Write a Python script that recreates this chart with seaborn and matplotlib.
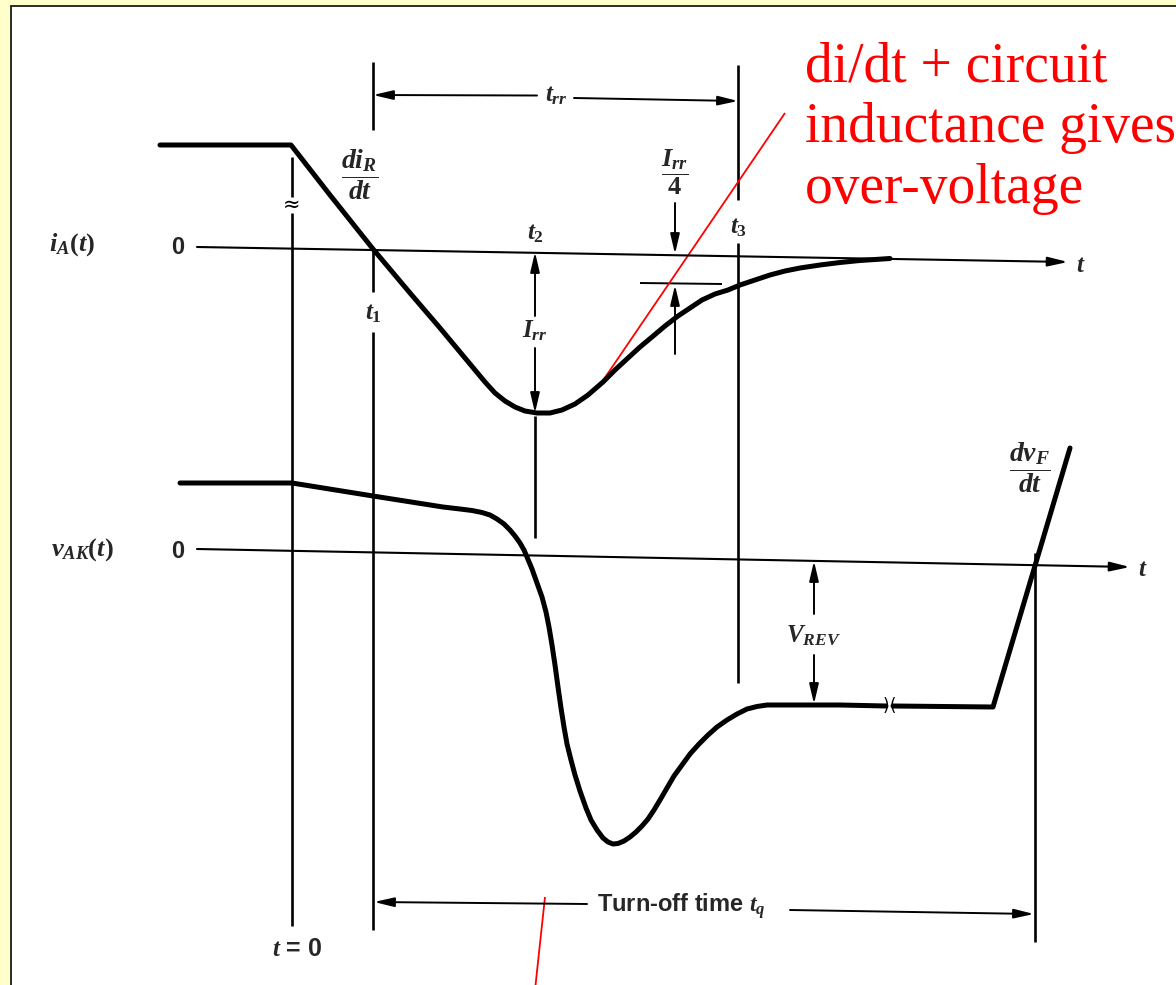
import matplotlib
matplotlib.use("Agg")
import matplotlib.pyplot as plt
from matplotlib.patches import Rectangle
import pandas as pd
import seaborn as sns

sns.set_style("white")
plt.rcParams["font.family"] = ["Liberation Sans", "DejaVu Sans"]
plt.rcParams["mathtext.fontset"] = "custom"
plt.rcParams["mathtext.it"] = "Liberation Serif:italic:bold"
plt.rcParams["mathtext.rm"] = "Liberation Serif:bold"
plt.rcParams["mathtext.bf"] = "Liberation Serif:bold"

# ---- waveforms (drawing units, y grows downward) ----
# anode current i_A(t): forward level, linear di/dt fall, reverse-recovery dip, decay to zero
current_t = [160, 291, 330, 373, 410, 440, 455, 465, 475, 485, 495, 505, 515, 525,
             537, 550, 562, 575, 588, 603, 615, 628, 640, 652, 665, 678, 690, 702,
             715, 728, 740, 755, 770, 785, 800, 820, 840, 860, 875, 890]
current_i = [145, 145, 195, 249, 293, 328, 346, 358, 370, 382, 393, 401, 407, 411,
             413, 413, 410, 404, 395, 382, 370, 358, 347, 337, 326, 316, 308, 300,
             294, 290, 285, 280, 275, 271, 268, 265, 262.5, 260.5, 259.5, 258.5]

# anode-cathode voltage v_AK(t) up to the time-axis break
voltage_t = [180, 292, 373, 443, 460, 472, 482, 490, 497, 504, 510, 515, 520, 524,
             527, 532, 537, 542, 546, 549, 552, 555, 558, 561, 564, 567, 571, 575,
             580, 586, 591, 597, 603, 608, 613, 618, 624, 630, 636, 642, 648, 654,
             660, 667, 674, 682, 690, 699, 708, 717, 727, 737, 747, 757, 767, 780,
             840, 886]
voltage_v = [483, 483, 496, 507, 509, 510.5, 512.5, 515, 519, 524, 530, 536, 543, 550,
             557, 569, 583, 597, 612, 627, 645, 665, 687, 708, 727, 744, 760, 775,
             791, 808, 820, 830, 838, 842, 844, 843.5, 841, 837, 832, 826, 819, 810,
             800, 788, 776, 765, 754, 744, 735, 727, 720, 714, 709, 706.5, 705, 705,
             705, 706]
# after the break: reverse plateau, then forward dv/dt ramp
voltage_tail_t = [893, 993, 1070]
voltage_tail_v = [706, 707, 448]

# zero axes (start, arrow tip)
current_axis = [(197, 247), (1068, 262)]
voltage_axis = [(197, 549), (1130, 567)]

# event instants
t_zero, t_one, t_two, t_three, t_q = 292, 373, 535, 738, 1035

fig = plt.figure(figsize=(11.76, 9.85), dpi=100)
fig.patch.set_facecolor("#FFFFCC")
ax = fig.add_axes([0, 0, 1, 1])
ax.add_patch(Rectangle((11, 6), 1200, 1000, facecolor="white",
                       edgecolor="#1a1a1a", lw=1.3, zorder=0))

K = "black"


def vline(x, y0, y1, lw=1.9):
    ax.plot([x, x], [y0, y1], color=K, lw=lw, solid_capstyle="butt", zorder=2)


def seg(p0, p1, lw=1.4, color=K):
    ax.plot([p0[0], p1[0]], [p0[1], p1[1]], color=color, lw=lw,
            solid_capstyle="butt", zorder=2)


def arrow(tail, tip, lw=1.4):
    ax.annotate("", xy=tip, xytext=tail,
                arrowprops=dict(arrowstyle="-|>,head_length=1.2,head_width=0.28",
                                mutation_scale=10, lw=lw, color=K,
                                shrinkA=0, shrinkB=0), zorder=3)


# axes with arrowheads
arrow(current_axis[0], current_axis[1], lw=1.5)
arrow(voltage_axis[0], voltage_axis[1], lw=1.5)

# waveforms
wave_kw = dict(sort=False, estimator=None, color=K, linewidth=3.6, ax=ax,
               legend=False, zorder=4)
sns.lineplot(data=pd.DataFrame({"t": current_t, "y": current_i}), x="t", y="y", **wave_kw)
sns.lineplot(data=pd.DataFrame({"t": voltage_t, "y": voltage_v}), x="t", y="y", **wave_kw)
sns.lineplot(data=pd.DataFrame({"t": voltage_tail_t, "y": voltage_tail_v}), x="t", y="y", **wave_kw)
for ln in ax.get_lines():
    ln.set_solid_joinstyle("round")
ax.set_xlim(0, 1176)
ax.set_ylim(985, 0)
ax.axis("off")

# break marks on the plateau
ax.text(886, 706, ")", ha="center", va="center", fontsize=12, color=K,
        family="DejaVu Sans")
ax.text(893, 706, "(", ha="center", va="center", fontsize=12, color=K,
        family="DejaVu Sans")

# vertical time markers
vline(t_zero, 157, 197)
vline(t_zero, 213, 926)
ax.text(t_zero, 205, "≈", ha="center", va="center", fontsize=15, color=K,
        family="DejaVu Sans")
vline(t_one, 62, 130)
vline(t_one, 248, 292)
vline(t_one, 332, 930)
vline(t_three, 65, 200)
vline(t_three, 243, 683)
vline(t_two, 416, 538)
vline(t_q, 553, 942)

# t_rr span
arrow((537, 95.5), (t_one, 95))
arrow((574, 98), (t_three, 101))
ax.text(556, 95, r"$t_{rr}$", ha="center", va="center", fontsize=18)

# I_rr span
arrow((t_two, 316), (t_two, 252))
arrow((t_two, 348), (t_two, 413))
ax.text(t_two, 331, r"$I_{rr}$", ha="center", va="center", fontsize=18)

# I_rr/4 marker
arrow((675, 203), (675, 254))
seg((640, 283), (722, 284), lw=1.4)
arrow((675, 354), (675, 285))
ax.text(675, 172, r"$\dfrac{I_{rr}}{4}$", ha="center", va="center", fontsize=19)

# V_REV span
arrow((814, 614), (814, 561))
arrow((814, 655), (814, 704))
ax.text(813, 636, r"$V_{REV}$", ha="center", va="center", fontsize=18)

# turn-off time span
arrow((587, 904), (t_one + 1, 902))
arrow((790, 910), (t_q - 1, 914))
ax.text(597, 906, r"Turn-off time $t_q$", ha="left", va="center", fontsize=17,
        fontweight="bold")

# labels
ax.text(360, 175, r"$\dfrac{di_R}{dt}$", ha="center", va="center", fontsize=20)
ax.text(1030, 468, r"$\dfrac{dv_F}{dt}$", ha="center", va="center", fontsize=20)
ax.text(t_two, 233, r"$t_2$", ha="center", va="center", fontsize=18)
ax.text(t_three + 1, 227, r"$t_3$", ha="center", va="center", fontsize=18)
ax.text(t_one, 313, r"$t_1$", ha="center", va="center", fontsize=18)
ax.text(72, 245, r"$i_A(t)$", ha="center", va="center", fontsize=19)
ax.text(82, 550, r"$v_{AK}(t)$", ha="center", va="center", fontsize=19)
ax.text(178, 247, "0", ha="center", va="center", fontsize=17, fontweight="bold")
ax.text(178, 551, "0", ha="center", va="center", fontsize=17, fontweight="bold")
ax.text(1081, 265, r"$t$", ha="center", va="center", fontsize=18)
ax.text(1143, 569, r"$t$", ha="center", va="center", fontsize=18)
ax.text(297, 949, r"$t$ = 0", ha="center", va="center", fontsize=18, fontweight="bold")

# annotation in red
RED = "#FF0000"
seg((602, 382), (785, 113), lw=1.3, color=RED)
seg((545, 897), (535, 990), lw=1.3, color=RED)
for line, base in zip(["di/dt + circuit", "inductance gives", "over-voltage"], [82, 142, 203]):
    ax.text(805, base, line, ha="left", va="baseline", fontsize=40, color=RED,
            family="Liberation Serif")

fig.savefig("out.png", dpi=100, facecolor=fig.get_facecolor())
